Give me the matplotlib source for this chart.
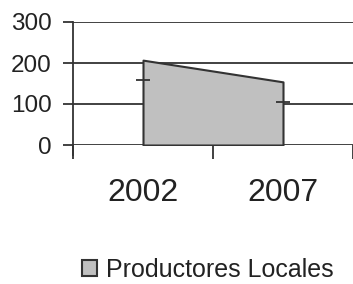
import matplotlib.pyplot as plt
import numpy as np

plt.rcParams['font.family'] = ['Liberation Sans', 'DejaVu Sans']

years = ['2002', '2007']
productores = [207, 154]
marcas = [158, 105]
yticks = [0, 100, 200, 300]

fig = plt.figure(figsize=(3.53, 2.84), dpi=100)
ax = fig.add_axes([73/353, 139/284, 280/353, 123/284])

x = np.arange(len(years)) + 0.5
line_c = '#333333'

for v in yticks:
    ax.axhline(v, color=line_c, lw=1.3, zorder=1)

ax.fill_between(x, 0, productores, facecolor='#c0c0c0', edgecolor=line_c,
                lw=1.5, zorder=2, label='Productores Locales')
ax.plot(x, marcas, ls='none', marker='_', ms=10, mew=1.3, color=line_c, zorder=3)

ax.set_xlim(0, len(years))
ax.set_ylim(0, 300)
ax.set_yticks(yticks)
ax.set_xticks(np.arange(len(years) + 1))
ax.set_xticklabels([])
ax.set_xticks(x, minor=True)
ax.set_xticklabels(years, minor=True, fontsize=23, color='#222222')
ax.tick_params(axis='x', which='major', length=10, width=1.3, color=line_c, direction='out')
ax.tick_params(axis='x', which='minor', length=0, pad=24)
ax.tick_params(axis='y', length=7.5, width=1.3, color=line_c, labelsize=17.5,
               labelcolor='#222222', pad=8)

for s in ['top', 'right', 'bottom']:
    ax.spines[s].set_visible(False)
ax.spines['left'].set_color(line_c)
ax.spines['left'].set_linewidth(1.3)
ax.spines['left'].set_bounds(-24, 300)

fig.legend(loc='center', bbox_to_anchor=(208/353, 1 - 270/284), frameon=False,
           fontsize=18, handlelength=0.6, handleheight=0.6, handletextpad=0.35,
           labelcolor='#222222')

fig.savefig('out.png', dpi=100)
